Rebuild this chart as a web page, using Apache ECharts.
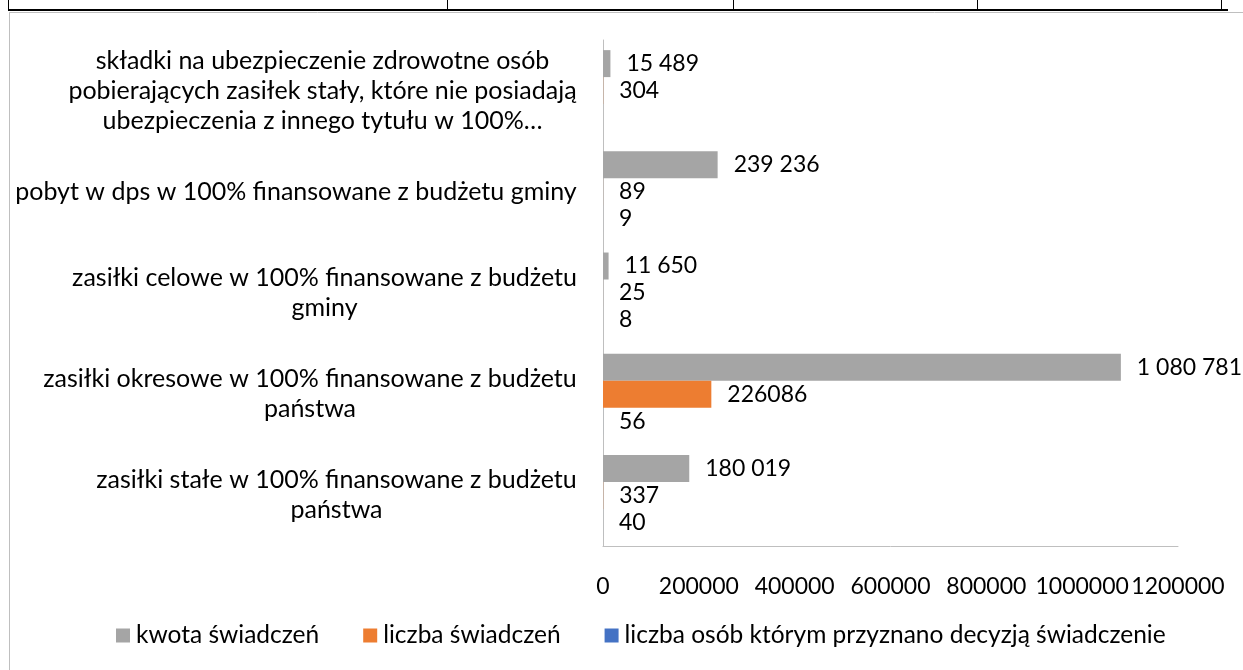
<!DOCTYPE html>
<html>
<head>
<meta charset="utf-8">
<script src="https://cdn.jsdelivr.net/npm/echarts@6/dist/echarts.min.js"></script>
<style>
  html, body { margin: 0; padding: 0; background: #fff; }
  #chart { width: 1243px; height: 670px; }
</style>
</head>
<body>
<div id="chart"></div>
<script>
// kategorie (od góry do dołu)
var categories = [
  "składki na ubezpieczenie zdrowotne osób\npobierających zasiłek stały, które nie posiadają\nubezpieczenia z innego tytułu w 100%…",
  "pobyt w dps w 100% finansowane z budżetu gminy",
  "zasiłki celowe w 100% finansowane z budżetu\ngminy",
  "zasiłki okresowe w 100% finansowane z budżetu\npaństwa",
  "zasiłki stałe w 100% finansowane z budżetu\npaństwa"
];
var seriesNames = ["kwota świadczeń", "liczba świadczeń", "liczba osób którym przyznano decyzją świadczenie"];
var kwota = [15489, 239236, 11650, 1080781, 180019];
var liczbaSwiadczen = [304, 89, 25, 226086, 337];
var liczbaOsob = [null, 9, 8, 56, 40];
var xTicks = [0, 200000, 400000, 600000, 800000, 1000000, 1200000];

var FONT = "Lato";
var FS_TXT = 25;   // opisy kategorii
var FS_LEG = 24.5; // legenda
var FS_NUM = 23;   // liczby
var colors = ["#A5A5A5", "#ED7D31", "#4472C4"];

// szerokość najdłuższej linii etykiety -> wyśrodkowanie linii
var ctx = document.createElement("canvas").getContext("2d");
ctx.font = FS_TXT + "px " + FONT;
var rich = {};
categories.forEach(function (c, i) {
  var w = 0;
  c.split("\n").forEach(function (l) { w = Math.max(w, ctx.measureText(l).width); });
  rich["c" + i] = { width: Math.ceil(w), align: "center", fontFamily: FONT, fontSize: FS_TXT, lineHeight: 30, color: "#000" };
});

var spaced = function (v) { return String(v).replace(/\B(?=(\d{3})+(?!\d))/g, " "); };

var labelBase = { show: true, position: "right", distance: 16, color: "#000", fontFamily: FONT, fontSize: FS_NUM };

var myChart = echarts.init(document.getElementById("chart"));
var option = {
  animation: false,
  backgroundColor: "#fff",
  textStyle: { fontFamily: FONT },
  grid: { left: 603, right: 65, top: 40, bottom: 124 },
  legend: {
    bottom: 17,
    left: 111,
    icon: "rect",
    itemWidth: 14,
    itemHeight: 14,
    itemGap: 44,
    textStyle: { fontFamily: FONT, fontSize: FS_LEG, color: "#000", padding: [0, 0, 0, 1] },
    data: seriesNames
  },
  xAxis: {
    type: "value",
    min: xTicks[0],
    max: xTicks[xTicks.length - 1],
    interval: xTicks[1] - xTicks[0],
    splitLine: { show: false },
    axisLine: { show: true, lineStyle: { color: "#BFBFBF" } },
    axisTick: { show: false },
    axisLabel: {
      color: "#000", fontFamily: FONT, fontSize: FS_NUM, margin: 29,
      showMaxLabel: true, showMinLabel: true, hideOverlap: false,
      formatter: function (v) { return String(v); }
    }
  },
  yAxis: {
    type: "category",
    inverse: true,
    data: categories,
    axisLine: { show: true, lineStyle: { color: "#BFBFBF" } },
    axisTick: { show: false },
    axisLabel: {
      margin: 26,
      align: "right",
      formatter: function (v, i) {
        return v.split("\n").map(function (l) { return "{c" + i + "|" + l + "}"; }).join("\n");
      },
      rich: rich
    }
  },
  series: [
    {
      name: seriesNames[0], type: "bar", data: kwota,
      barGap: "0%", barCategoryGap: "20%",
      itemStyle: { color: colors[0] },
      label: Object.assign({}, labelBase, { formatter: function (p) { return spaced(p.value); } })
    },
    {
      name: seriesNames[1], type: "bar", data: liczbaSwiadczen,
      barGap: "0%", barCategoryGap: "20%",
      itemStyle: { color: colors[1] },
      label: labelBase
    },
    {
      name: seriesNames[2], type: "bar", data: liczbaOsob,
      barGap: "0%", barCategoryGap: "20%",
      itemStyle: { color: colors[2] },
      label: labelBase
    }
  ],
  graphic: [
    // resztki tabeli nad wykresem
    { type: "line", shape: { x1: 8, y1: 10, x2: 1228, y2: 10 }, style: { stroke: "#000", lineWidth: 2 } },
    { type: "line", shape: { x1: 8.5, y1: 0, x2: 8.5, y2: 10 }, style: { stroke: "#000", lineWidth: 1 } },
    { type: "line", shape: { x1: 447.5, y1: 0, x2: 447.5, y2: 10 }, style: { stroke: "#000", lineWidth: 1 } },
    { type: "line", shape: { x1: 733.5, y1: 0, x2: 733.5, y2: 10 }, style: { stroke: "#000", lineWidth: 1 } },
    { type: "line", shape: { x1: 977.5, y1: 0, x2: 977.5, y2: 10 }, style: { stroke: "#000", lineWidth: 1 } },
    { type: "line", shape: { x1: 1221.5, y1: 0, x2: 1221.5, y2: 10 }, style: { stroke: "#000", lineWidth: 1 } },
    // ramka wykresu
    { type: "line", shape: { x1: 9, y1: 12.5, x2: 1243, y2: 12.5 }, style: { stroke: "#BFBFBF", lineWidth: 1 } },
    { type: "line", shape: { x1: 9.5, y1: 12, x2: 9.5, y2: 670 }, style: { stroke: "#BFBFBF", lineWidth: 1 } }
  ]
};
myChart.setOption(option);
</script>
</body>
</html>
